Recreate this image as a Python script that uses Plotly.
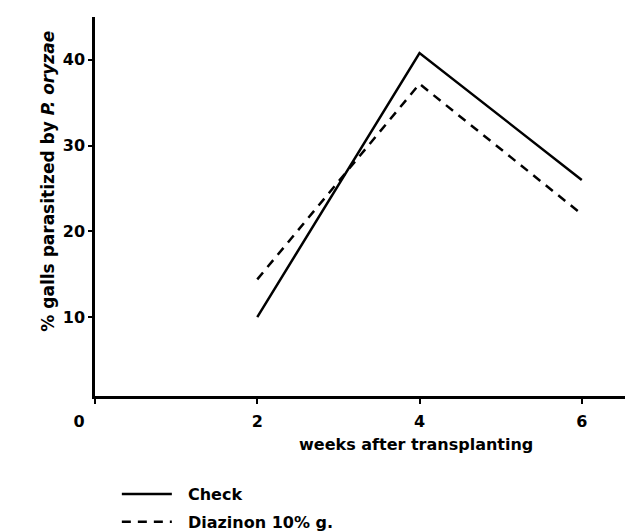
import plotly.graph_objects as go

weeks = [2, 4, 6]
check = [10.0, 40.8, 26.0]
diazinon = [14.4, 37.2, 22.0]
xtick_vals = [0, 2, 4, 6]
xtick_text = ["0\u2003\u2003", "2", "4", "6"]
ytick_vals = [10, 20, 30, 40]
series_names = ["Check", "Diazinon 10% g."]

FONT = "DejaVu Sans"
W, H = 633, 531
ml, mr, mt, mb = 87, 0, 9, 133

fig = go.Figure()
fig.add_trace(go.Scatter(x=weeks, y=check, mode="lines",
                         name="<b>\u00a0\u00a0" + series_names[0] + "</b>",
                         legendgroup="a",
                         line=dict(color="black", width=2.5), cliponaxis=False))
fig.add_trace(go.Scatter(x=weeks, y=diazinon, mode="lines",
                         name="<b>\u00a0\u00a0" + series_names[1] + "</b>",
                         legendgroup="b",
                         line=dict(color="black", width=2.5, dash="9px,7px"), cliponaxis=False))

fig.update_layout(
    width=W, height=H,
    margin=dict(l=ml, r=mr, t=mt, b=mb),
    paper_bgcolor="white", plot_bgcolor="white",
    font=dict(family=FONT, size=16, color="black"),
    showlegend=True,
    legend=dict(x=0.04, y=-0.215, xanchor="left", yanchor="top",
                bgcolor="rgba(0,0,0,0)", font=dict(size=16, family=FONT),
                tracegroupgap=4, itemwidth=50),
    xaxis=dict(range=[0, 6.73], tickvals=xtick_vals,
               ticktext=["<b>%s</b>" % t for t in xtick_text],
               showgrid=False, zeroline=False, showline=True, linecolor="black", linewidth=2.5,
               ticks="outside", ticklen=5, tickwidth=2, tickcolor="black",
               ticklabelstandoff=4, tickfont=dict(size=16)),
    yaxis=dict(range=[0.8, 45], tickvals=ytick_vals,
               ticktext=["<b>%d</b>" % v for v in ytick_vals],
               showgrid=False, zeroline=False, showline=True, linecolor="black", linewidth=2.5,
               ticks="outside", ticklen=4, tickwidth=2, tickcolor="black",
               tickfont=dict(size=16)),
)

pw = W - ml - mr
ph = H - mt - mb

def px_to_paper(xp, yp):
    return (xp - ml) / pw, (H - mb - yp) / ph

tx, ty = px_to_paper(408, 460)
fig.add_annotation(x=tx, y=ty, xref="paper", yref="paper",
                   text="<b>weeks after transplanting</b>", showarrow=False, font=dict(size=16))
yx, yy = px_to_paper(28, 178)
fig.add_annotation(x=yx, y=yy, xref="paper", yref="paper", textangle=-90,
                   text="<b>% galls parasitized by <i>P. oryzae</i></b>", showarrow=False,
                   font=dict(size=17))

fig.write_html("out.html")
